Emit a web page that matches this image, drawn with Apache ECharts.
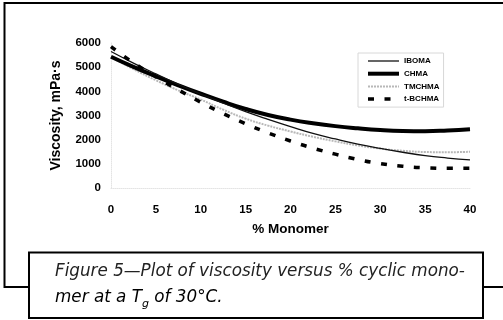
<!DOCTYPE html>
<html>
<head>
<meta charset="utf-8">
<script src="https://cdn.jsdelivr.net/npm/echarts@6/dist/echarts.min.js"></script>
<style>
html,body{margin:0;padding:0;background:#fff;}
#chart{width:503px;height:320px;}
</style>
</head>
<body>
<div id="chart"></div>
<script>
const monomerPct = [0, 2.5, 5, 7.5, 10, 12.5, 15, 17.5, 20, 22.5, 25, 27.5, 30, 32.5, 35, 37.5, 40];
const iboma  = [5650, 5170, 4720, 4290, 3890, 3510, 3160, 2840, 2540, 2260, 2030, 1820, 1640, 1480, 1340, 1240, 1160];
const chma   = [5430, 5010, 4620, 4250, 3900, 3570, 3270, 3020, 2830, 2680, 2560, 2470, 2400, 2360, 2350, 2380, 2430];
const tmchma = [5420, 4920, 4460, 4040, 3660, 3240, 2870, 2580, 2340, 2120, 1930, 1760, 1630, 1540, 1490, 1480, 1500];
const tbchma = [5850, 5180, 4600, 4060, 3550, 3080, 2660, 2280, 1945, 1650, 1400, 1180, 1010, 900, 840, 815, 815];
const seriesNames = ['IBOMA', 'CHMA', 'TMCHMA', 't-BCHMA'];
const xAxisName = '% Monomer';
const yAxisName = 'Viscosity, mPa·s';
const captionLine1 = 'Figure 5—Plot of viscosity versus % cyclic mono-';
const captionLine2Parts = ['mer at a ', 'T', 'g', ' of 30°C.'];

const pair = arr => arr.map((v, i) => [monomerPct[i], v]);
const font = '"Liberation Sans", Arial, sans-serif';
const capFont = '"DejaVu Sans", sans-serif';

const styles = [
  {color: '#111', width: 1.3, type: 'solid'},
  {color: '#000', width: 4, type: 'solid'},
  {color: '#b8b8b8', width: 2, type: [2, 1]},
  {color: '#000', width: 3.5, type: [6, 10.5]}
];
const seriesData = [iboma, chma, tmchma, tbchma];
const zs = [4, 3, 2, 5];

const chart = echarts.init(document.getElementById('chart'), null, {renderer: 'canvas'});
chart.setOption({
  animation: false,
  backgroundColor: '#fff',
  grid: {left: 111, right: 33, top: 43, bottom: 132},
  xAxis: {
    type: 'value', min: 0, max: 40, interval: 5,
    name: xAxisName, nameLocation: 'middle', nameGap: 34,
    nameTextStyle: {fontFamily: font, fontWeight: 'bold', fontSize: 13.5, color: '#000'},
    axisLine: {show: true, lineStyle: {color: '#e4e4e4', type: 'dotted'}},
    axisTick: {show: false},
    splitLine: {show: false},
    axisLabel: {fontFamily: font, fontWeight: 'bold', fontSize: 11.5, color: '#000', margin: 16}
  },
  yAxis: {
    type: 'value', min: 0, max: 6000, interval: 1000,
    name: yAxisName, nameLocation: 'middle', nameGap: 48, nameRotate: 90,
    nameTextStyle: {fontFamily: font, fontWeight: 'bold', fontSize: 14, color: '#000'},
    axisLine: {show: true, lineStyle: {color: '#e4e4e4', type: 'dotted'}},
    axisTick: {show: false},
    splitLine: {show: false},
    axisLabel: {fontFamily: font, fontWeight: 'bold', fontSize: 11.5, color: '#000', margin: 10,
                formatter: v => String(v)}
  },
  legend: {
    orient: 'vertical', left: 358, top: 53,
    padding: [4, 4, 4, 8],
    itemWidth: 31, itemHeight: 8, itemGap: 4.7,
    borderColor: '#d8d8d8', borderWidth: 1,
    itemStyle: {opacity: 0},
    textStyle: {fontFamily: font, fontWeight: 'bold', fontSize: 8, color: '#000', lineHeight: 8},
    data: seriesNames.map((n, i) => ({name: n, lineStyle: {width: styles[i].width, color: styles[i].color, type: styles[i].type}}))
  },
  series: seriesNames.map((n, i) => ({
    name: n, type: 'line', data: pair(seriesData[i]), smooth: true, symbol: 'none',
    itemStyle: {color: styles[i].color},
    lineStyle: {color: styles[i].color, width: styles[i].width, type: styles[i].type},
    z: zs[i]
  })),
  graphic: [
    {type: 'rect', z: 100, shape: {x: 4.5, y: 3, width: 530, height: 284},
     style: {fill: null, stroke: '#000', lineWidth: 2}},
    {type: 'rect', z: 101, shape: {x: 29, y: 252.5, width: 454, height: 65.5},
     style: {fill: '#fff', stroke: '#000', lineWidth: 2}},
    {type: 'text', z: 102, left: 55, top: 263,
     style: {text: captionLine1, font: 'italic 16.8px ' + capFont, fill: '#222'}},
    {type: 'text', z: 102, left: 55, top: 289,
     style: {
       text: '{a|' + captionLine2Parts[0] + captionLine2Parts[1] + '}{s|' + captionLine2Parts[2] + '}{a|' + captionLine2Parts[3] + '}',
       rich: {
         a: {fontFamily: capFont, fontStyle: 'italic', fontSize: 16.8, lineHeight: 24, color: '#222'},
         s: {fontFamily: capFont, fontStyle: 'italic', fontSize: 11, lineHeight: 10, verticalAlign: 'bottom', color: '#222'}
       }
     }}
  ]
});
</script>
</body>
</html>
